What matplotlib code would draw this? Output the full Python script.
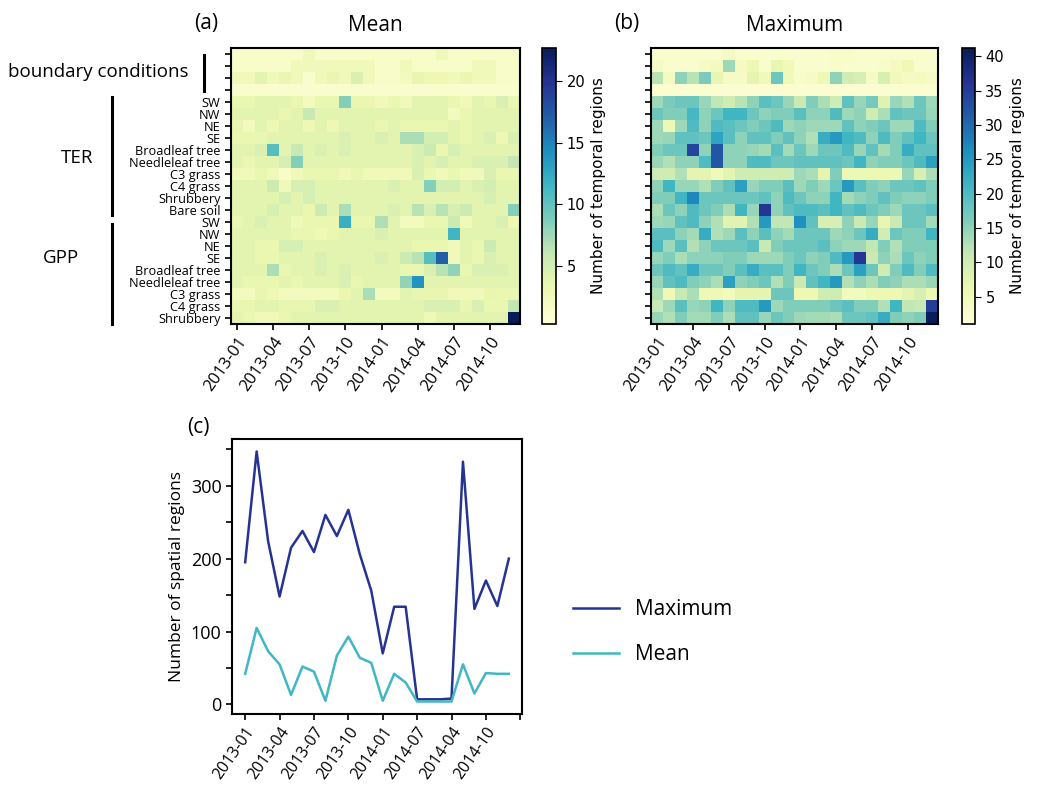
import numpy as np
import matplotlib
matplotlib.use('Agg')
import matplotlib.pyplot as plt

plt.rcParams['font.family'] = ['Open Sans', 'DejaVu Sans']

# x axis labels
heat_xlabels = ['2013-01', '2013-04', '2013-07', '2013-10',
                '2014-01', '2014-04', '2014-07', '2014-10']
line_xlabels = ['2013-01', '2013-04', '2013-07', '2013-10',
                '2014-01', '2014-07', '2014-04', '2014-10', '']

ter_labels = ['SW', 'NW', 'NE', 'SE', 'Broadleaf tree', 'Needleleaf tree',
              'C3 grass', 'C4 grass', 'Shrubbery', 'Bare soil']
gpp_labels = ['SW', 'NW', 'NE', 'SE', 'Broadleaf tree', 'Needleleaf tree',
              'C3 grass', 'C4 grass', 'Shrubbery']

# (a) mean number of temporal regions, one row per variable, 24 months
mean_boundary = [
    [1.5, 1.5, 1.5, 1.5, 1.5, 1.5, 2.5, 1.5, 1.5, 1.5, 1.5, 1.5, 1.5, 1.5, 1.5, 1.5, 1.5, 2.5, 1.5, 1.5, 1.5, 1.5, 1.5, 1.5],
    [1.5, 1.5, 1.5, 1.5, 1.5, 2.5, 2.5, 2.5, 2.5, 2.5, 2.5, 2.5, 1.5, 1.5, 2.5, 1.5, 1.5, 1.5, 1.5, 1.5, 2.5, 2.5, 1.5, 1.5],
    [2.5, 2.5, 3.8, 2.5, 3.2, 2.5, 1.2, 2.5, 3.2, 2.5, 4.5, 2.5, 1.5, 1.5, 2.2, 3.5, 3.0, 3.0, 2.5, 3.2, 2.5, 2.5, 1.5, 1.5],
    [1.2, 1.2, 1.2, 1.2, 1.2, 1.2, 1.2, 1.2, 1.2, 1.2, 1.2, 1.2, 1.2, 1.2, 1.2, 1.2, 1.2, 1.2, 1.2, 1.2, 1.2, 1.2, 1.2, 1.2],
]
mean_ter = [
    [3.3, 3.3, 3.8, 3.8, 3.8, 3.2, 2.2, 3.3, 3.3, 8.5, 3.2, 3.2, 2.5, 3.3, 2.5, 3.8, 3.8, 3.8, 3.3, 2.5, 3.8, 3.3, 4.5, 3.3],
    [3.8, 3.8, 3.8, 3.8, 3.2, 3.8, 5.8, 3.8, 3.8, 3.8, 3.8, 3.8, 3.8, 3.8, 3.8, 3.8, 3.8, 3.8, 2.3, 3.2, 3.8, 3.8, 3.8, 3.8],
    [3.5, 2.2, 3.8, 3.0, 3.8, 3.8, 3.0, 3.8, 3.0, 3.8, 3.8, 3.8, 3.2, 3.8, 3.2, 3.2, 3.2, 3.2, 3.8, 3.2, 3.8, 3.8, 3.8, 3.8],
    [3.3, 3.3, 3.3, 3.8, 3.8, 3.8, 3.8, 3.8, 3.8, 4.5, 3.8, 3.8, 4.5, 3.8, 7.0, 7.0, 5.0, 5.0, 3.8, 3.2, 3.8, 4.5, 3.0, 4.5],
    [3.8, 3.8, 4.5, 10.5, 3.8, 5.8, 3.8, 4.5, 3.8, 4.5, 3.8, 3.8, 3.8, 3.8, 3.8, 4.5, 5.5, 3.3, 4.8, 3.8, 3.8, 3.8, 3.8, 3.8],
    [3.8, 3.2, 3.8, 3.8, 4.8, 8.5, 3.8, 3.8, 3.8, 3.8, 3.8, 3.8, 3.8, 3.8, 3.8, 4.5, 3.8, 4.8, 3.8, 3.8, 4.5, 4.5, 4.5, 6.0],
    [2.5, 2.5, 3.3, 2.5, 1.5, 2.5, 3.3, 3.3, 3.3, 2.5, 3.3, 2.5, 2.5, 2.5, 2.5, 4.5, 3.3, 2.5, 3.3, 2.5, 2.5, 4.5, 3.3, 3.3],
    [3.8, 3.8, 3.8, 5.5, 2.5, 4.8, 4.8, 3.8, 3.8, 3.8, 3.8, 3.8, 3.8, 4.5, 3.8, 3.8, 8.5, 5.0, 5.0, 3.8, 4.5, 5.0, 3.8, 3.8],
    [3.8, 3.8, 3.8, 3.8, 4.8, 3.8, 4.8, 3.8, 3.8, 3.8, 3.8, 3.8, 3.8, 3.8, 3.8, 3.8, 3.8, 3.8, 3.8, 3.8, 3.8, 4.8, 3.8, 3.8],
    [3.8, 3.8, 3.8, 4.8, 3.8, 3.8, 3.3, 5.5, 3.8, 7.0, 3.8, 3.8, 3.8, 4.5, 3.8, 6.5, 4.5, 6.5, 4.8, 5.5, 3.8, 3.8, 3.8, 8.5],
]
mean_gpp = [
    [3.2, 3.8, 4.5, 3.8, 3.8, 2.5, 3.3, 3.3, 3.3, 12.0, 3.3, 3.3, 6.8, 3.8, 2.3, 2.3, 3.3, 3.3, 5.5, 2.5, 3.8, 3.8, 4.5, 3.0],
    [3.8, 3.8, 3.8, 3.8, 3.8, 3.3, 3.3, 2.8, 3.3, 3.8, 3.8, 3.8, 4.5, 3.8, 3.8, 3.8, 3.8, 3.8, 11.5, 3.8, 3.8, 3.8, 3.8, 3.8],
    [3.8, 3.8, 3.3, 3.3, 4.8, 4.8, 3.8, 3.8, 3.8, 3.8, 3.8, 3.8, 3.8, 3.8, 3.8, 3.3, 3.3, 3.3, 2.5, 3.8, 3.3, 5.5, 3.8, 3.8],
    [3.8, 3.8, 3.3, 3.3, 3.8, 3.8, 3.8, 4.5, 3.8, 3.8, 3.8, 3.8, 4.5, 3.8, 5.5, 6.5, 10.5, 17.0, 2.5, 3.8, 3.3, 4.5, 3.8, 3.8],
    [3.8, 3.8, 3.8, 7.0, 3.3, 3.8, 3.8, 4.5, 3.8, 4.5, 3.8, 3.8, 3.8, 3.8, 3.3, 3.3, 4.5, 6.5, 8.0, 3.3, 4.5, 4.5, 4.5, 3.8],
    [3.8, 3.3, 3.3, 3.3, 3.8, 3.3, 3.8, 3.8, 3.8, 4.5, 3.3, 3.8, 3.8, 3.8, 8.0, 14.0, 3.8, 3.8, 3.8, 3.8, 3.8, 3.8, 3.8, 3.8],
    [2.2, 2.2, 3.5, 2.8, 2.3, 2.3, 2.3, 2.3, 2.3, 3.3, 3.8, 7.0, 2.2, 2.2, 3.8, 3.5, 3.5, 3.5, 2.5, 2.5, 2.5, 3.5, 3.3, 3.3],
    [3.5, 3.5, 3.8, 3.8, 3.5, 3.5, 3.5, 4.5, 4.5, 3.8, 3.8, 3.8, 3.8, 3.8, 3.8, 3.8, 4.5, 4.5, 4.5, 3.5, 4.5, 3.3, 3.3, 6.0],
    [3.8, 3.3, 2.5, 2.5, 3.3, 3.8, 3.8, 3.8, 3.8, 3.8, 3.8, 3.8, 3.8, 3.8, 3.8, 3.8, 2.8, 3.8, 3.8, 3.8, 3.8, 3.8, 3.8, 22.7],
]

# (b) maximum number of temporal regions
max_boundary = [
    [2.5, 2.5, 2.5, 2.5, 2.5, 2.5, 4, 2.5, 2.5, 2.5, 2.5, 2.5, 2.5, 2.5, 2.5, 3, 3, 2.5, 2.5, 2.5, 2.5, 2.5, 2.5, 2.5],
    [3.5, 2.5, 2.5, 2.5, 3.5, 4.5, 14, 4, 6, 2.5, 6.5, 5, 2.5, 2.5, 2.5, 3, 2.5, 2.5, 2.5, 3, 4, 5.5, 2.5, 2.5],
    [12, 4, 15, 12, 16.5, 6.5, 3.5, 3.5, 7, 5, 17.5, 5, 3, 3.5, 5.5, 15, 9.5, 9, 3.5, 9, 5, 4, 4.5, 3.5],
    [2, 2, 2, 2, 2, 2, 2, 2, 2, 2, 2, 2, 2, 2, 2, 2, 2, 2, 2, 2, 2, 2, 2, 2],
]
max_ter = [
    [14, 16.5, 17.5, 17.5, 14.5, 11.5, 10, 12, 15, 19, 17.5, 14.5, 10.5, 16, 13, 10, 18.5, 14.5, 17, 8, 14.5, 12.5, 17.5, 14],
    [17.5, 16, 16, 20.5, 15, 17.5, 21, 21, 17.5, 15, 16, 16, 19, 15, 15, 20, 14, 15, 10, 13, 18.5, 17.5, 17.5, 14.5],
    [14, 6, 14, 20, 15, 20, 19, 17.5, 16, 17.5, 20, 14, 15, 14, 14, 14, 18.5, 15, 16, 17.5, 14, 14, 20, 16],
    [14, 14.5, 18.5, 18.5, 17.5, 23.5, 19, 15, 18.5, 18.5, 16, 18.5, 15, 12.5, 22.5, 25, 21, 20, 15, 20, 16, 18.5, 21, 17.5],
    [16, 17.5, 17.5, 34, 15, 32, 15, 15, 14.5, 13.5, 19, 13.5, 17.5, 14, 17.5, 17.5, 20, 14.5, 18.5, 13.5, 16, 22.5, 18.5, 18.5],
    [14.5, 12.5, 15, 15, 20, 32, 15, 15, 20, 20, 17.5, 17.5, 18.5, 18.5, 18.5, 18.5, 17.5, 21, 15, 16, 16, 17.5, 20, 24],
    [10, 10, 12.5, 7, 7, 5, 7, 10, 10, 10, 10, 10, 14, 13, 7, 16, 6, 6, 6, 6, 6, 14.5, 9, 13],
    [15, 21, 14.5, 14.5, 12.5, 16, 18.5, 24, 14.5, 16, 16, 19, 14, 16, 14, 17.5, 25, 19, 16, 15, 17.5, 17.5, 18.5, 16],
    [16, 16, 21, 27, 17.5, 17.5, 17.5, 17.5, 17.5, 18.5, 15, 20, 17.5, 15, 15, 21, 13.5, 15, 16, 18.5, 16, 15, 15, 16],
    [13, 17.5, 15, 20, 17.5, 16, 13, 21, 14.5, 36, 15, 18.5, 20, 20, 19, 21, 18.5, 20, 17.5, 16, 14, 17.5, 17.5, 19],
]
max_gpp = [
    [14, 14.5, 18.5, 20, 15, 12.5, 7.5, 7.5, 12.5, 25, 11.5, 11.5, 26, 18.5, 9, 9, 15, 10.5, 14.5, 6.5, 10.5, 17.5, 17.5, 13.5],
    [19, 19, 15, 13.5, 22.5, 12.5, 14, 19, 15, 19, 15, 13.5, 17.5, 17.5, 17.5, 14, 15, 17.5, 22.5, 9.5, 17.5, 16, 16, 21],
    [20, 14, 19, 12.5, 15, 17.5, 17.5, 17.5, 19, 11, 16, 17.5, 17.5, 17.5, 19, 15, 14, 14, 11.5, 16, 12.5, 16, 16, 16],
    [14.5, 16, 13, 15, 15, 15, 16, 16, 14, 14, 14, 16, 17.5, 15, 16, 20, 25, 36, 10.5, 15, 13, 17.5, 15, 16],
    [17.5, 20, 18.5, 22.5, 17.5, 17.5, 16, 19, 22.5, 19, 19, 16, 21, 17.5, 16, 13, 17.5, 24, 17.5, 10, 16, 20, 16, 20],
    [14.5, 18.5, 20, 16, 15, 13, 24, 15, 16, 17.5, 12.5, 16, 10.5, 18.5, 21, 25, 12.5, 15, 13, 16, 15, 13, 13, 14.5],
    [12.5, 5.5, 11, 13, 5.5, 5.5, 4.5, 7, 7, 7, 17.5, 17.5, 6, 6, 10, 10, 4.5, 4.5, 6, 6, 6, 7, 9, 6],
    [11, 14, 19, 14.5, 15, 21, 15, 20, 20, 25, 14, 16, 16, 16, 16, 17.5, 19, 16, 16, 12.5, 21, 11.5, 11, 35],
    [14.5, 12.5, 16, 13.5, 13.5, 16, 13, 18.5, 18.5, 14.5, 17.5, 16, 14, 13.5, 13.5, 13, 17.5, 17.5, 18.5, 22.5, 16, 15, 16, 41],
]

# (c) number of spatial regions per month
spatial_max = [195, 347, 224, 148, 215, 238, 209, 260, 231, 267, 206, 156,
               70, 134, 134, 7, 7, 7, 8, 333, 131, 170, 135, 200]
spatial_mean = [42, 105, 73, 55, 13, 52, 45, 5, 67, 93, 64, 57,
                5, 42, 30, 4, 4, 4, 4, 55, 15, 43, 42, 42]

W, H = 1038, 785
fig = plt.figure(figsize=(W / 100, H / 100), dpi=100)


def box(x0, y0, x1, y1):
    # pixel box (top-left origin) -> figure fraction rect
    return [x0 / W, 1 - y1 / H, (x1 - x0) / W, (y1 - y0) / H]


ax_a = fig.add_axes(box(231, 48, 520, 324))
cax_a = fig.add_axes(box(542, 48, 556, 324))
ax_b = fig.add_axes(box(651, 48, 938, 324))
cax_b = fig.add_axes(box(962, 48, 975, 324))
ax_c = fig.add_axes(box(232, 439, 522, 714))


def heatmap(ax, cax, data, vmin, vmax, ticks):
    im = ax.imshow(data, cmap='YlGnBu', vmin=vmin, vmax=vmax,
                   aspect='auto', interpolation='nearest')
    ax.set_xticks(range(0, len(data[0]), 3))
    ax.set_xticklabels(heat_xlabels, rotation=55, ha='right',
                       rotation_mode='anchor', fontsize=12)
    ax.set_yticks(range(len(data)))
    ax.tick_params(length=4, width=1.2)
    for s in ax.spines.values():
        s.set_linewidth(1.5)
    cb = fig.colorbar(im, cax=cax, ticks=ticks)
    cb.outline.set_linewidth(1.2)
    cb.ax.tick_params(labelsize=10.5, length=4)
    for t in cb.ax.get_yticklabels():
        t.set_family('DejaVu Sans')
    cb.set_label('Number of temporal regions', family='DejaVu Sans', fontsize=11)
    return im


mean_data = np.array(mean_boundary + mean_ter + mean_gpp)
max_data = np.array(max_boundary + max_ter + max_gpp)

heatmap(ax_a, cax_a, mean_data, 0.3, 22.7, [5, 10, 15, 20])
ax_a.set_yticklabels([''] * 4 + ter_labels + gpp_labels, fontsize=9.2)
ax_a.set_title('Mean', fontsize=15, pad=12)

heatmap(ax_b, cax_b, max_data, 1, 41.2, [5, 10, 15, 20, 25, 30, 35, 40])
ax_b.set_yticklabels([])
ax_b.set_title('Maximum', fontsize=15, pad=12)

fig.text(206 / W, 1 - 24 / H, '(a)', fontsize=15, ha='center', va='center')
fig.text(627 / W, 1 - 24 / H, '(b)', fontsize=15, ha='center', va='center')
fig.text(198 / W, 1 - 428 / H, '(c)', fontsize=15, ha='center', va='center')

# group brackets to the left of panel (a)
groups = [('boundary conditions', 98, 72, 204, 55, 91),
          ('TER', 77, 158, 112, 97, 215),
          ('GPP', 61, 258, 112, 224, 324)]
for name, tx, ty, lx, ly0, ly1 in groups:
    fig.text(tx / W, 1 - ty / H, name, fontsize=13.5, ha='center', va='center')
    fig.add_artist(plt.Line2D([lx / W, lx / W], [1 - ly0 / H, 1 - ly1 / H],
                              transform=fig.transFigure, color='black', lw=2.2))

# (c) line chart
months = np.arange(len(spatial_max))
ax_c.plot(months, spatial_max, color='#253494', lw=1.8, label='Maximum')
ax_c.plot(months, spatial_mean, color='#41b6c4', lw=1.8, label='Mean')
ax_c.set_xticks(range(0, 25, 3))
ax_c.set_xticklabels(line_xlabels, rotation=55, ha='right',
                     rotation_mode='anchor', fontsize=11.5)
ax_c.set_yticks(range(0, 351, 50))
ax_c.set_yticklabels(['0', '', '100', '', '200', '', '300', ''], fontsize=13)
ax_c.set_ylabel('Number of spatial regions', fontsize=12.5)
ax_c.tick_params(length=4, width=1.2)
for s in ax_c.spines.values():
    s.set_linewidth(1.5)
ax_c.legend(loc='center left', bbox_to_anchor=(1.146, 0.298), frameon=False,
            fontsize=15, handlelength=2.2, labelspacing=1.15, borderaxespad=0)

fig.savefig('out.png', dpi=100)
